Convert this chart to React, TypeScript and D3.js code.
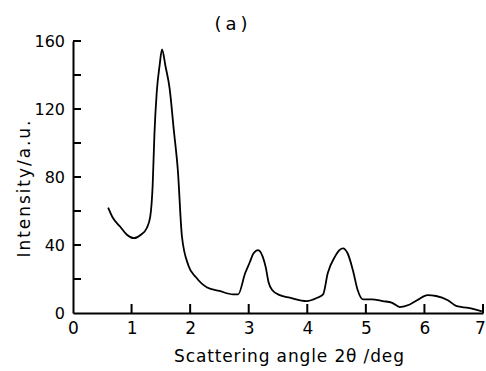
import { useRef, useEffect } from "react";
import * as d3 from "d3";

// values
const angle = [
  0.6, 0.68, 0.8, 0.92, 1.04, 1.16, 1.26, 1.32, 1.36, 1.39, 1.43, 1.48, 1.52,
  1.58, 1.65, 1.72, 1.79, 1.86, 1.97, 2.1, 2.29, 2.5, 2.73, 2.82, 2.94, 3.02,
  3.08, 3.16, 3.24, 3.29, 3.34, 3.4, 3.53, 3.7, 3.99, 4.16, 4.27, 4.35, 4.47,
  4.55, 4.61, 4.69, 4.78, 4.86, 4.95, 5.1, 5.29, 5.45, 5.58, 5.75, 5.9, 6.05,
  6.2, 6.4, 6.55, 6.75, 6.98,
];
const intensity = [
  62, 56, 51, 46, 44, 46, 50, 57, 75, 105, 130, 146, 155, 145, 132, 108, 84,
  45, 28, 21, 15, 13, 11, 11, 23.5, 30, 35, 37, 33, 27, 18, 13.5, 10.5, 9, 7,
  8.8, 11, 23.5, 33, 37, 38, 35, 25, 13.5, 8, 8, 7, 6, 3.5, 5, 8, 10.5, 10,
  7.5, 4, 3, 1,
];
const xTicks = [0, 1, 2, 3, 4, 5, 6, 7];
const yTicks = [0, 20, 40, 60, 80, 100, 120, 140, 160];
const yLabels = [0, 40, 80, 120, 160];

const W = 486;
const H = 371;
const FONT = "'DejaVu Sans', sans-serif";

const x = d3.scaleLinear().domain([0, 7]).range([73, 483]);
const y = d3.scaleLinear().domain([0, 160]).range([313, 41]);

export default function App() {
  const svgRef = useRef<SVGSVGElement>(null);

  useEffect(() => {
    if (!svgRef.current) return;
    const svg = d3.select(svgRef.current).select<SVGGElement>("g.plot");
    svg.selectAll("*").remove();

    // x axis labels
    const gx = svg
      .append("g")
      .attr("transform", `translate(0,${y(0)})`)
      .call(
        d3
          .axisBottom(x)
          .tickValues(xTicks)
          .tickSize(0)
          .tickPadding(9)
          .tickFormat(d3.format("d"))
      );
    gx.select(".domain").attr("stroke", "#000").attr("stroke-width", 2);
    gx.selectAll(".tick text")
      .attr("font-family", FONT)
      .attr("font-size", 17)
      .attr("fill", "#000")
      .attr("dx", (d) => (d === 7 ? -3 : 0));

    // y axis labels every 40
    const gy = svg
      .append("g")
      .attr("transform", `translate(${x(0)},0)`)
      .call(
        d3
          .axisLeft(y)
          .tickValues(yTicks)
          .tickSize(0)
          .tickPadding(8)
          .tickFormat((d) => (yLabels.includes(d as number) ? String(d) : ""))
      );
    gy.select(".domain").attr("stroke", "#000").attr("stroke-width", 2);
    gy.selectAll(".tick text")
      .attr("font-family", FONT)
      .attr("font-size", 16)
      .attr("fill", "#000");

    const pts = angle.map((a, i) => [a, intensity[i]] as [number, number]);
    const line = d3
      .line<[number, number]>()
      .x((d) => x(d[0]))
      .y((d) => y(d[1]))
      .curve(d3.curveMonotoneX);

    svg
      .append("path")
      .datum(pts)
      .attr("d", line)
      .attr("fill", "none")
      .attr("stroke", "#000")
      .attr("stroke-width", 1.8)
      .attr("stroke-linejoin", "round");
  }, []);

  return (
    <svg
      ref={svgRef}
      width={W}
      height={H}
      style={{ position: "absolute", left: 0, top: 0, background: "#fff" }}
    >
      <g className="plot"></g>
      {/* inward tick marks */}
      <g stroke="#000" strokeWidth={2}>
        {xTicks
          .filter((d) => d > 0)
          .map((d) => (
            <line key={"x" + d} x1={x(d)} x2={x(d)} y1={y(0)} y2={y(0) - 9} />
          ))}
        {yTicks
          .filter((d) => d > 0)
          .map((d) => (
            <line key={"y" + d} x1={x(0)} x2={x(0) + 8} y1={y(d)} y2={y(d)} />
          ))}
      </g>
      <text
        x={289}
        y={362}
        textAnchor="middle"
        fontFamily={FONT}
        fontSize={17}
        textLength={230}
        lengthAdjust="spacing"
      >
        Scattering angle 2θ /deg
      </text>
      <text
        transform="translate(30,189) rotate(-90)"
        textAnchor="middle"
        fontFamily={FONT}
        fontSize={17}
        textLength={137}
        lengthAdjust="spacing"
      >
        Intensity/a.u.
      </text>
      <text
        x={231}
        y={30}
        textAnchor="middle"
        fontFamily={FONT}
        fontSize={18}
        textLength={33}
        lengthAdjust="spacing"
      >
        (a)
      </text>
    </svg>
  );
}
